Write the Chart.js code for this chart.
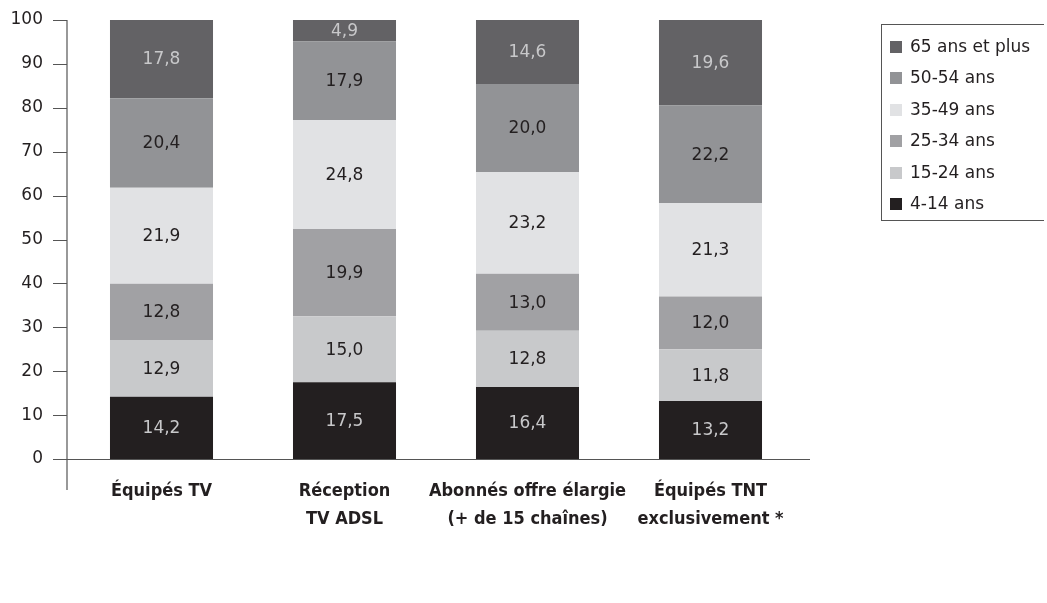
<!DOCTYPE html>
<html lang="fr">
<head>
<meta charset="utf-8">
<title>Répartition par âge</title>
<script src="https://cdn.jsdelivr.net/npm/chart.js@4.4.1/dist/chart.umd.min.js"></script>
<style>
  html, body { margin: 0; padding: 0; background: #fff; }
  #wrap { position: relative; width: 1047px; height: 603px; }
  #legend {
    position: absolute; left: 881px; top: 24px; width: 163px; height: 197px;
    border: 1px solid #555; border-right: none; box-sizing: border-box;
    padding: 9px 0 0 8px; font: 17px "DejaVu Sans", sans-serif; color: #231f20;
  }
  #legend div { height: 31.4px; line-height: 24px; white-space: nowrap; }
  #legend span.box { display: inline-block; width: 12px; height: 12px; margin-right: 8px; vertical-align: -1px; }
</style>
</head>
<body>
<div id="wrap">
  <canvas id="chart" width="1047" height="603"></canvas>
  <div id="legend"></div>
</div>
<script>
const categories = [
    ['Équipés TV'],
    ['Réception', 'TV ADSL'],
    ['Abonnés offre élargie', '(+ de 15 chaînes)'],
    ['Équipés TNT', 'exclusivement *']
];
const seriesNames = ['4-14 ans', '15-24 ans', '25-34 ans', '35-49 ans', '50-54 ans', '65 ans et plus'];
const age4to14 = [14.2, 17.5, 16.4, 13.2];
const age15to24 = [12.9, 15.0, 12.8, 11.8];
const age25to34 = [12.8, 19.9, 13.0, 12.0];
const age35to49 = [21.9, 24.8, 23.2, 21.3];
const age50to54 = [20.4, 17.9, 20.0, 22.2];
const age65plus = [17.8, 4.9, 14.6, 19.6];
const yTicks = [0, 10, 20, 30, 40, 50, 60, 70, 80, 90, 100];

const fills = ['#231f20', '#c8c9cb', '#a1a1a4', '#e1e2e4', '#929396', '#636265'];
const labelColors = ['#c8c8ca', '#231f20', '#231f20', '#231f20', '#231f20', '#c8c8ca'];
const values = [age4to14, age15to24, age25to34, age35to49, age50to54, age65plus];

const datasets = seriesNames.map((name, i) => ({
    label: name,
    data: values[i],
    backgroundColor: fills[i],
    borderWidth: 0,
    barPercentage: 0.563,
    categoryPercentage: 1
}));

// value written in the middle of each segment
const segmentLabels = {
    id: 'segmentLabels',
    afterDatasetsDraw(chart) {
        const ctx = chart.ctx;
        ctx.save();
        ctx.font = '17px "DejaVu Sans", sans-serif';
        ctx.textAlign = 'center';
        ctx.textBaseline = 'middle';
        chart.data.datasets.forEach((ds, i) => {
            chart.getDatasetMeta(i).data.forEach((bar, j) => {
                const mid = (bar.y + bar.base) / 2;
                ctx.fillStyle = labelColors[i];
                ctx.fillText(ds.data[j].toFixed(1).replace('.', ','), bar.x, mid + 1);
            });
        });
        ctx.restore();
    }
};

// axis lines and tick marks, running a bit past the plot area
const axisLines = {
    id: 'axisLines',
    afterDraw(chart) {
        const ctx = chart.ctx;
        const y = chart.scales.y;
        const x = chart.scales.x;
        const x0 = y.right - 3;
        const y0 = y.getPixelForValue(0);
        ctx.save();
        ctx.strokeStyle = '#555';
        ctx.lineWidth = 1.2;
        ctx.beginPath();
        ctx.moveTo(x0, y.getPixelForValue(100));
        ctx.lineTo(x0, y0 + 31);
        yTicks.forEach(v => {
            const py = Math.round(y.getPixelForValue(v)) + 0.5;
            ctx.moveTo(x0 - 14, py);
            ctx.lineTo(x0, py);
        });
        ctx.moveTo(x0 - 14, Math.round(y0) + 0.5);
        ctx.lineTo(x.right + 8, Math.round(y0) + 0.5);
        ctx.stroke();
        ctx.restore();
    }
};

new Chart(document.getElementById('chart'), {
    type: 'bar',
    data: { labels: categories, datasets: datasets },
    options: {
        responsive: false,
        animation: false,
        layout: { padding: { top: 20, right: 245, left: 0, bottom: 0 } },
        plugins: {
            legend: { display: false },
            tooltip: { enabled: false }
        },
        scales: {
            x: {
                stacked: true,
                grid: { display: false },
                border: { display: false },
                afterFit(scale) { scale.height = 144; },
                ticks: {
                    color: '#231f20',
                    padding: 10,
                    autoSkip: false,
                    maxRotation: 0,
                    minRotation: 0,
                    font: { family: '"Liberation Sans Narrow", "DejaVu Sans Condensed", sans-serif', size: 18, weight: 'bold', lineHeight: 1.55 }
                }
            },
            y: {
                stacked: true,
                min: 0,
                max: 100,
                afterBuildTicks(scale) { scale.ticks = yTicks.map(v => ({ value: v })); },
                afterFit(scale) {
                    scale.width = 70;
                    scale.paddingTop = 0;
                },
                grid: { display: false },
                border: { display: false },
                ticks: {
                    color: '#231f20',
                    padding: 19,
                    font: { family: '"DejaVu Sans", sans-serif', size: 17 }
                }
            }
        }
    },
    plugins: [segmentLabels, axisLines]
});

// legend box, top series first
const legendEl = document.getElementById('legend');
seriesNames.slice().reverse().forEach((name, k) => {
    const i = seriesNames.length - 1 - k;
    const row = document.createElement('div');
    row.innerHTML = '<span class="box" style="background:' + fills[i] + '"></span>' + name;
    legendEl.appendChild(row);
});
</script>
</body>
</html>
